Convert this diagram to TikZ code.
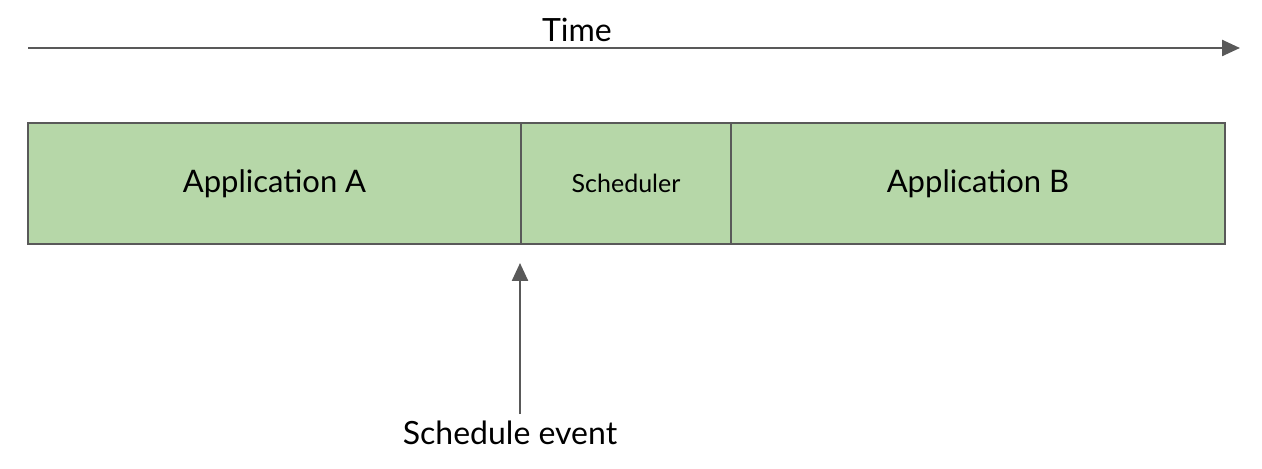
\documentclass[tikz,border=0pt]{standalone}
\usepackage{fontspec}
\setmainfont{Lato}
\usetikzlibrary{arrows.meta}
\usetikzlibrary{positioning}
\definecolor{slotgreen}{HTML}{B6D7A8}
\definecolor{linegray}{HTML}{595959}
\tikzset{
  slot/.style={draw=linegray,line width=1pt,fill=slotgreen,rectangle,
    minimum height=60.5pt,inner sep=0pt,anchor=north west},
  pointer/.style={draw=linegray,line width=1.2pt,-{Triangle[length=9pt,width=8pt]}}
}
\begin{document}
\begin{tikzpicture}[x=0.5pt,y=-0.5pt]
  \useasboundingbox (0,0) rectangle (1262,469);

  \coordinate (tstart) at (28,48);
  \coordinate (tend)   at (1240,48);
  \draw [pointer] (tstart) -- (tend);
  \node (time) at (577,30) {\fontsize{16}{18}\selectfont Time};

  \node [slot,minimum width=246.5pt] (appA) at (27,122) {\fontsize{15.5}{18}\selectfont Application A};
  \node [slot,minimum width=105pt] (sched) at (520,122) {\fontsize{12.5}{15}\selectfont Scheduler};
  \node [slot,minimum width=247pt] (appB) at (730,122) {\fontsize{15.5}{18}\selectfont Application B};

  \node (event) at (510,433) {\fontsize{16}{18}\selectfont Schedule event};
  \coordinate (tip) at (520,263);
  \draw [pointer] ([xshift=5pt]event.north) -- (tip);
\end{tikzpicture}
\end{document}
